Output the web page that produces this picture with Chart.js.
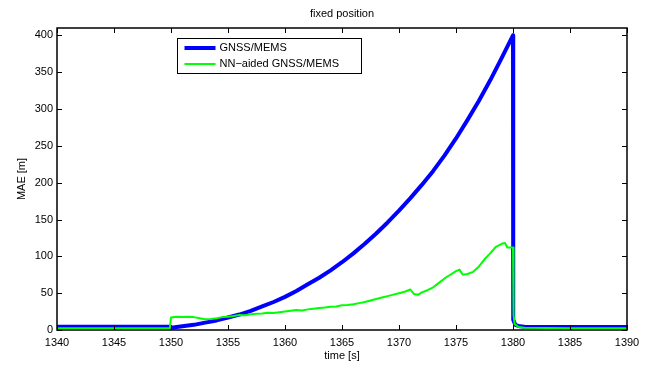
<!DOCTYPE html>
<html>
<head>
<meta charset="utf-8">
<script src="https://cdn.jsdelivr.net/npm/chart.js@4"></script>
<style>
  body { margin: 0; background: #fff; }
  canvas { display: block; }
</style>
</head>
<body>
<canvas id="maeChart" width="650" height="365"></canvas>
<script>
// series names
const seriesNames = ['GNSS/MEMS', 'NN\u2212aided GNSS/MEMS'];

// GNSS/MEMS (blue) - time [s] and MAE [m]
const blueTime = [
    1340, 1345, 1349.9,
    1350, 1351, 1352, 1353, 1354, 1355, 1356, 1357, 1358, 1359,
    1360, 1361, 1362, 1363, 1364, 1365, 1366, 1367, 1368, 1369,
    1370, 1371, 1372, 1373, 1374, 1375, 1376, 1377, 1378, 1379,
    1380, 1380.02, 1380.2, 1380.6, 1381, 1385, 1390
];
const blueMae = [
    4.5, 4.5, 4.5,
    3, 5, 7, 10, 13, 17, 21, 26, 32, 38,
    45, 53, 62, 71, 81, 92, 104, 117, 131, 146,
    162, 179, 197, 216, 237, 260, 285, 311, 339, 369,
    400, 14, 7, 5, 4.5, 4, 4
];

// NN-aided GNSS/MEMS (green)
const greenTime = [
    1340, 1345, 1349.9,
    1350, 1350.5, 1351, 1351.5, 1352, 1352.5, 1353, 1353.5, 1354, 1354.5,
    1355, 1355.5, 1356, 1356.5, 1357, 1357.5, 1358, 1358.5, 1359, 1359.5,
    1360, 1360.5, 1361, 1361.5, 1362, 1362.5, 1363, 1363.5, 1364, 1364.5,
    1365, 1365.5, 1366, 1366.5, 1367, 1367.5, 1368, 1368.5, 1369, 1369.5,
    1370, 1370.5, 1371, 1371.3, 1371.7, 1372, 1372.5, 1373, 1373.5, 1374, 1374.5,
    1375, 1375.3, 1375.6, 1376, 1376.5, 1377, 1377.5, 1378, 1378.5, 1379, 1379.3, 1379.5,
    1380, 1380.05, 1380.15, 1380.5, 1381, 1385, 1390
];
const greenMae = [
    2.5, 2.5, 2.5,
    17, 18, 17.5, 18, 17.5, 16, 14.5, 15, 16, 17.5,
    18, 19, 20.5, 20, 21.5, 22, 22.5, 23.5, 23, 24,
    25, 26, 27, 26.5, 28, 29, 30, 30.5, 31.5, 32,
    33.5, 34, 35, 36.5, 38, 40, 42, 44, 46, 48,
    50, 52, 55, 49, 48, 51, 54, 58, 64, 70, 75,
    80, 82, 75, 76, 79, 86, 96, 104, 113, 117, 118, 112,
    112, 20, 8, 4, 3, 2.5, 2.5
];

// axis ticks
const xTicks = [1340, 1345, 1350, 1355, 1360, 1365, 1370, 1375, 1380, 1385, 1390];
const yTicks = [0, 50, 100, 150, 200, 250, 300, 350, 400];

const seriesColors = ['#0000ff', '#00ff00'];
const seriesWidths = [4, 2];

Chart.defaults.font.family = '"Liberation Sans", Arial, Helvetica, sans-serif';
Chart.defaults.font.size = 11;
Chart.defaults.color = '#000';

function toPoints(xs, ys) {
    return xs.map((x, i) => ({ x: x, y: ys[i] }));
}

// matlab style box with inward ticks + legend inside the axes
const matlabBox = {
    id: 'matlabBox',
    afterDatasetsDraw(chart) {
        const { ctx, chartArea: a, scales: { x, y } } = chart;
        const len = 5;
        ctx.save();
        ctx.strokeStyle = '#000';
        ctx.lineWidth = 1;
        ctx.beginPath();
        x.ticks.forEach(t => {
            const px = Math.round(x.getPixelForValue(t.value)) + 0.5;
            ctx.moveTo(px, a.bottom);
            ctx.lineTo(px, a.bottom - len);
            ctx.moveTo(px, a.top);
            ctx.lineTo(px, a.top + len);
        });
        y.ticks.forEach(t => {
            const py = Math.round(y.getPixelForValue(t.value)) + 0.5;
            ctx.moveTo(a.left, py);
            ctx.lineTo(a.left + len, py);
            ctx.moveTo(a.right, py);
            ctx.lineTo(a.right - len, py);
        });
        ctx.stroke();
        ctx.lineWidth = 1.5;
        ctx.strokeRect(a.left, a.top, a.right - a.left, a.bottom - a.top);

        // legend
        const bx = 177.5, by = 38.5, bw = 184, bh = 35;
        ctx.fillStyle = '#fff';
        ctx.fillRect(bx, by, bw, bh);
        ctx.lineWidth = 1;
        ctx.strokeRect(bx, by, bw, bh);
        ctx.font = '11px "Liberation Sans", Arial, sans-serif';
        ctx.textBaseline = 'middle';
        ctx.textAlign = 'left';
        seriesNames.forEach((name, i) => {
            const ly = by + 9.5 + i * 16;
            ctx.strokeStyle = seriesColors[i];
            ctx.lineWidth = seriesWidths[i];
            ctx.beginPath();
            ctx.moveTo(bx + 7, ly);
            ctx.lineTo(bx + 38, ly);
            ctx.stroke();
            ctx.fillStyle = '#000';
            ctx.fillText(name, bx + 42, ly);
        });
        ctx.restore();
    }
};

new Chart(document.getElementById('maeChart'), {
    type: 'line',
    data: {
        datasets: [
            {
                label: seriesNames[0],
                data: toPoints(blueTime, blueMae),
                borderColor: seriesColors[0],
                borderWidth: seriesWidths[0],
                borderJoinStyle: 'round',
                pointRadius: 0,
                tension: 0,
                order: 1
            },
            {
                label: seriesNames[1],
                data: toPoints(greenTime, greenMae),
                borderColor: seriesColors[1],
                borderWidth: seriesWidths[1],
                borderJoinStyle: 'round',
                pointRadius: 0,
                tension: 0,
                order: 0
            }
        ]
    },
    options: {
        responsive: false,
        animation: false,
        events: [],
        layout: { padding: { left: 0, right: 23, top: 0, bottom: 0 } },
        scales: {
            x: {
                type: 'linear',
                min: 1340,
                max: 1390,
                afterBuildTicks: scale => { scale.ticks = xTicks.map(v => ({ value: v })); },
                afterFit: scale => { scale.height = 35; },
                grid: { display: false, drawTicks: false, tickLength: 0 },
                border: { display: false },
                ticks: { padding: 6, maxRotation: 0, autoSkip: false, callback: v => String(v) },
                title: { display: true, text: 'time [s]', padding: { top: 0, bottom: 2 } }
            },
            y: {
                type: 'linear',
                min: 0,
                max: 410,
                afterBuildTicks: scale => { scale.ticks = yTicks.map(v => ({ value: v })); },
                afterFit: scale => { scale.width = 57; },
                grid: { display: false, drawTicks: false, tickLength: 0 },
                border: { display: false },
                ticks: { padding: 4, callback: v => String(v) },
                title: { display: true, text: 'MAE [m]', padding: { top: 15, bottom: 0 } }
            }
        },
        plugins: {
            legend: { display: false },
            tooltip: { enabled: false },
            title: {
                display: true,
                text: 'fixed position',
                fullSize: false,
                font: { size: 11, weight: 'normal' },
                padding: { top: 7.4, bottom: 7.4 }
            }
        }
    },
    plugins: [matlabBox]
});
</script>
</body>
</html>
